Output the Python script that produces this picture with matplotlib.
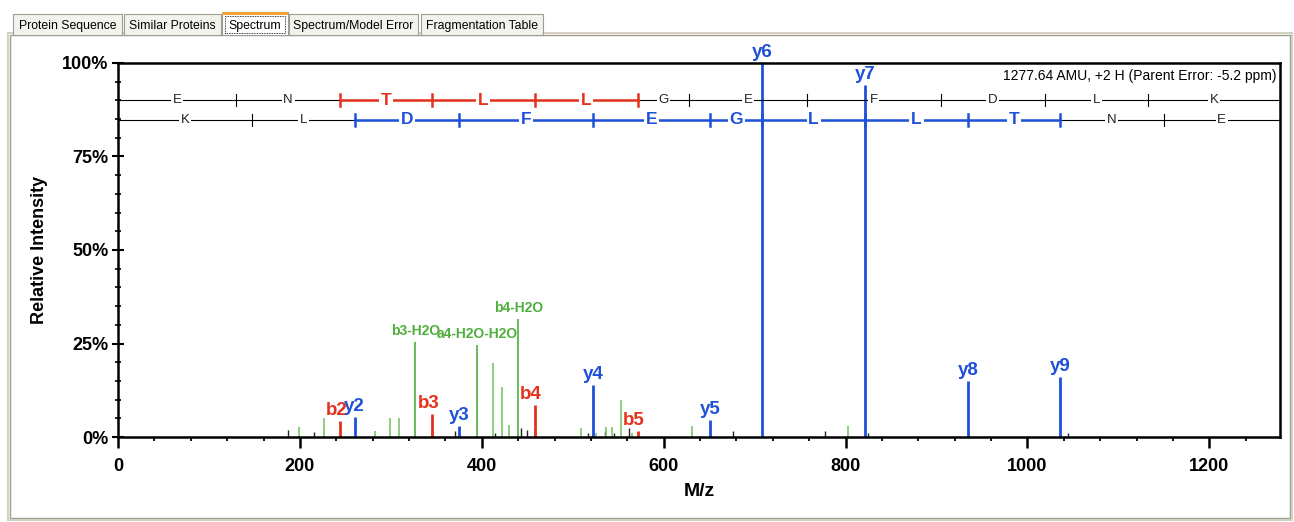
import matplotlib.pyplot as plt
from matplotlib.patches import Rectangle
import numpy as np

plt.rcParams['font.family'] = ['Liberation Sans', 'DejaVu Sans']

# peptide and ladders
top_seq = ['E', 'N', 'T', 'L', 'L', 'G', 'E', 'F', 'D', 'L', 'K']
b_ladder = [130.05, 244.09, 345.14, 458.22, 571.31, 628.33, 757.37, 904.44, 1019.47, 1132.55]
bot_seq = ['K', 'L', 'D', 'F', 'E', 'G', 'L', 'L', 'T', 'N', 'E']
y_ladder = [147.11, 260.19, 375.22, 522.29, 651.33, 708.35, 821.44, 934.52, 1035.57, 1149.61]
parent_mz = 1277.64
parent_text = "1277.64 AMU, +2 H (Parent Error: -5.2 ppm)"

# matched ions
b_mz = [244.1, 345.1, 458.2, 571.3]
b_int = [4.3, 6.2, 8.5, 1.6]
b_lab = ['b2', 'b3', 'b4', 'b5']
y_mz = [260.2, 375.2, 522.3, 651.3, 708.4, 821.4, 934.5, 1035.6]
y_int = [5.3, 3.0, 14.0, 4.5, 100.0, 94.1, 15.0, 16.0]
y_lab = ['y2', 'y3', 'y4', 'y5', 'y6', 'y7', 'y8', 'y9']
loss_mz = [199, 227, 283, 299, 309, 327, 395, 412.5, 422.5, 430, 440, 509, 526, 537, 543, 553, 565, 631, 803]
loss_int = [2.7, 5.0, 1.5, 5.0, 5.0, 25.4, 24.5, 19.8, 13.4, 3.2, 31.5, 2.4, 1.0, 2.7, 2.7, 10.0, 1.0, 3.0, 3.0]
loss_lab = ['', '', '', '', '', 'b3-H2O', 'a4-H2O-H2O', '', '', '', 'b4-H2O', '', '', '', '', '', '', '', '']
other_mz = [187, 216, 370, 415, 443, 450, 517, 535, 545, 562, 676, 777, 825, 1045]
other_int = [2.0, 1.3, 1.5, 1.0, 2.5, 2.0, 1.0, 1.5, 1.0, 2.5, 1.5, 1.5, 1.0, 1.0]

blue = '#1f50d8'
red = '#e4321c'
green = '#4fae3c'
lgreen = '#7cc66a'

fig = plt.figure(figsize=(12.94, 5.22), dpi=100)
fig.patch.set_facecolor('white')

# window chrome: panel border and tabs
fig.add_artist(Rectangle((10/1294, 4/522), 1280/1294, 483/522, transform=fig.transFigure,
                         facecolor='white', edgecolor='#9d9d92', lw=1.0, zorder=0))
fig.add_artist(Rectangle((8/1294, 2/522), 1284/1294, 487/522, transform=fig.transFigure,
                         facecolor='none', edgecolor='#d6d2c2', lw=1.5, zorder=0))
tabs = ['Protein Sequence', 'Similar Proteins', 'Spectrum', 'Spectrum/Model Error', 'Fragmentation Table']
tab_x = [13, 124, 222, 289, 421]
tab_w = [109, 97, 66, 129, 122]
for name, tx, tw in zip(tabs, tab_x, tab_w):
    sel = name == 'Spectrum'
    top = 12 if sel else 14
    fig.add_artist(Rectangle((tx/1294, (522-35)/522), tw/1294, (35-top)/522, transform=fig.transFigure,
                             facecolor='white' if sel else '#f3f2ec', edgecolor='#9d9d92', lw=0.8, zorder=1))
    if sel:
        fig.add_artist(Rectangle((tx/1294, (522-top-3)/522), tw/1294, 3/522, transform=fig.transFigure,
                                 facecolor='#f2a33a', edgecolor='none', zorder=2))
        fig.add_artist(Rectangle(((tx+3)/1294, (522-33)/522), (tw-6)/1294, 17/522, transform=fig.transFigure,
                                 facecolor='none', edgecolor='black', lw=0.6, ls=(0, (1, 1)), zorder=2))
    fig.text((tx + tw/2)/1294, (522-26)/522, name, ha='center', va='center', fontsize=8.8, color='black')

ax = fig.add_axes([118/1294, 85/522, 1162/1294, 374/522])
ax.set_xlim(0, parent_mz)
ax.set_ylim(0, 100)

# unmatched peaks
ax.vlines(other_mz, 0, other_int, color='#222222', lw=1.0)
# neutral losses
for mz, it, lab in zip(loss_mz, loss_int, loss_lab):
    ax.vlines(mz, 0, it, color=green if lab else lgreen, lw=1.2)
    if lab:
        ax.text(mz, it + 1.2, lab, color=green, fontsize=10, fontweight='bold', ha='center', va='bottom')
for mz, it, lab in zip(b_mz, b_int, b_lab):
    ax.vlines(mz, 0, it, color=red, lw=2)
    ax.text(mz - 4, it + 0.5, lab, color=red, fontsize=13.5, fontweight='bold', ha='center', va='bottom')
for mz, it, lab in zip(y_mz, y_int, y_lab):
    ax.vlines(mz, 0, it, color=blue, lw=2, clip_on=False)
    ax.text(mz, it + 0.5, lab, color=blue, fontsize=13.5, fontweight='bold', ha='center', va='bottom', clip_on=False)

# sequence ladders
def ladder(yv, seq, cuts, first, last, color):
    bounds = [0] + cuts + [parent_mz]
    ax.plot([0, parent_mz], [yv, yv], color='black', lw=0.8, zorder=3)
    ax.plot([bounds[first], bounds[last]], [yv, yv], color=color, lw=1.8, zorder=4)
    for i, c in enumerate(cuts, start=1):
        on = first <= i <= last
        ax.plot([c, c], [yv - 1.6, yv + 1.6], color=color if on else 'black', lw=1.8 if on else 0.8, zorder=4)
    for i, aa in enumerate(seq):
        mid = (bounds[i] + bounds[i+1]) / 2
        on = first <= i < last
        ax.text(mid, yv, aa, ha='center', va='center', zorder=5,
                color=color if on else '#222222', fontsize=12.5 if on else 9.5,
                fontweight='bold' if on else 'normal',
                bbox=dict(facecolor='white', edgecolor='none', pad=1.2))

ladder(90.1, top_seq, b_ladder, 2, 5, red)
ladder(84.8, bot_seq, y_ladder, 2, 9, blue)

ax.text(0.997, 0.985, parent_text, transform=ax.transAxes, ha='right', va='top', fontsize=10)

for s in ax.spines.values():
    s.set_linewidth(1.8)
ax.set_xticks(np.arange(0, 1201, 200))
ax.set_xticks(np.arange(0, 1277, 40), minor=True)
ax.set_yticks([0, 25, 50, 75, 100])
ax.set_yticklabels(['0%', '25%', '50%', '75%', '100%'])
ax.set_yticks(np.arange(0, 101, 5), minor=True)
ax.tick_params(axis='x', which='major', length=8, width=1.8, labelsize=13, pad=7)
ax.tick_params(axis='x', which='minor', length=3, width=1.3)
ax.tick_params(axis='y', which='major', direction='inout', length=8, width=1.5, labelsize=13, pad=3)
ax.tick_params(axis='y', which='minor', direction='inout', length=5, width=1.2)
for lb in ax.get_xticklabels() + ax.get_yticklabels():
    lb.set_fontweight('bold')
ax.set_xlabel('M/z', fontsize=14, fontweight='bold', labelpad=6)
ax.set_ylabel('Relative Intensity', fontsize=13, fontweight='bold', labelpad=10)

fig.savefig('out.png', dpi=100)
